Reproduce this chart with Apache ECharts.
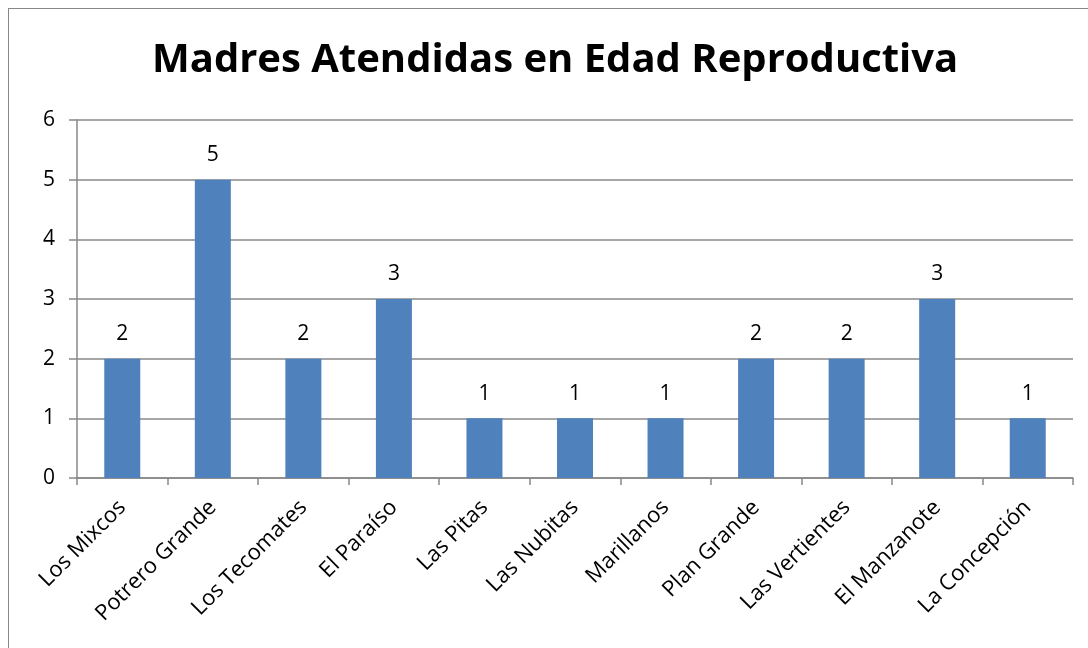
<!DOCTYPE html>
<html>
<head>
<meta charset="utf-8">
<script src="https://cdn.jsdelivr.net/npm/echarts@6/dist/echarts.min.js"></script>
<style>
  html, body { margin: 0; padding: 0; background: #fff; }
  .frame {
    position: absolute; left: 8px; top: 8px; width: 1200px; height: 800px;
    border: 1.5px solid #888; box-sizing: border-box;
  }
  #chart { position: absolute; left: 0; top: 0; width: 1088px; height: 648px; }
</style>
</head>
<body>
<div class="frame"></div>
<div id="chart"></div>
<script>
const categories = ['Los Mixcos', 'Potrero Grande', 'Los Tecomates', 'El Paraíso', 'Las Pitas',
  'Las Nubitas', 'Marillanos', 'Plan Grande', 'Las Vertientes', 'El Manzanote', 'La Concepción']
const values = [2, 5, 2, 3, 1, 1, 1, 2, 2, 3, 1]
const yTicks = [0, 1, 2, 3, 4, 5, 6]

const font = '"Open Sans", sans-serif'
const myChart = echarts.init(document.getElementById('chart'))
myChart.setOption({
  animation: false,
  title: {
    text: 'Madres Atendidas en Edad Reproductiva',
    left: 147,
    top: 36,
    textStyle: { fontFamily: font, fontWeight: 'bold', fontSize: 40, color: '#000' }
  },
  grid: { left: 77, right: 15, top: 120, bottom: 170 },
  xAxis: {
    type: 'category',
    data: categories,
    axisLine: { lineStyle: { color: '#888', width: 1.5 } },
    axisTick: { show: true, length: 7, lineStyle: { color: '#888', width: 1.5 } },
    axisLabel: { rotate: 45, fontFamily: font, fontSize: 22, color: '#000', margin: 26 }
  },
  yAxis: {
    type: 'value',
    min: yTicks[0],
    max: yTicks[yTicks.length - 1],
    interval: 1,
    axisLine: { show: true, lineStyle: { color: '#888', width: 1.5 } },
    axisTick: { show: true, length: 8, lineStyle: { color: '#888', width: 1.5 } },
    splitLine: { lineStyle: { color: '#888', width: 1.5 } },
    axisLabel: { fontFamily: font, fontSize: 21, color: '#000', margin: 22 }
  },
  series: [{
    type: 'bar',
    data: values,
    barWidth: 36,
    itemStyle: { color: '#4F81BD' },
    label: { show: true, position: 'top', distance: 14, fontFamily: font, fontSize: 21, color: '#000' }
  }]
})
</script>
</body>
</html>
